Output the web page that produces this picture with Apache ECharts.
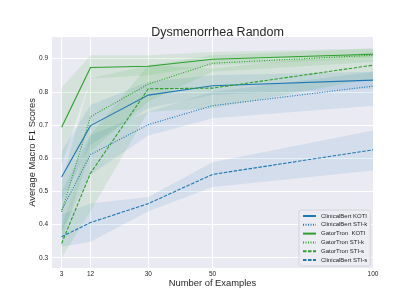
<!DOCTYPE html>
<html><head><meta charset="utf-8">
<script src="https://cdn.jsdelivr.net/npm/echarts@6/dist/echarts.min.js"></script>
<style>html,body{margin:0;padding:0;background:#fff}#c{width:415px;height:302px}</style>
</head><body><div id="c"></div>
<script>
const examples = [3, 12, 30, 50, 100];
const xTicks = [3, 12, 30, 50, 100];
const yTicks = [0.3, 0.4, 0.5, 0.6, 0.7, 0.8, 0.9];

const seriesNames = ['ClinicalBert KOTI', 'ClinicalBert STI-k', 'GatorTron  KOTI', 'GatorTron STI-k', 'GatorTron STI-s', 'ClinicalBert STI-s'];

const cbKoti     = [0.543, 0.698, 0.790, 0.818, 0.835];
const cbKotiLo   = [0.470, 0.640, 0.750, 0.790, 0.810];
const cbKotiHi   = [0.620, 0.760, 0.830, 0.850, 0.860];

const cbStik     = [0.443, 0.611, 0.701, 0.758, 0.817];
const cbStikLo   = [0.380, 0.550, 0.668, 0.720, 0.758];
const cbStikHi   = [0.500, 0.670, 0.740, 0.800, 0.860];

const gtKoti     = [0.693, 0.873, 0.877, 0.898, 0.913];
const gtKotiLo   = [0.580, 0.840, 0.850, 0.880, 0.900];
const gtKotiHi   = [0.813, 0.910, 0.910, 0.920, 0.930];

const gtStik     = [0.438, 0.725, 0.823, 0.886, 0.910];
const gtStikLo   = [0.350, 0.620, 0.770, 0.860, 0.890];
const gtStikHi   = [0.530, 0.840, 0.880, 0.910, 0.930];

const gtStis     = [0.343, 0.555, 0.809, 0.811, 0.880];
const gtStisLo   = [0.300, 0.440, 0.740, 0.750, 0.840];
const gtStisHi   = [0.390, 0.670, 0.880, 0.870, 0.920];

const cbStis     = [0.363, 0.406, 0.463, 0.551, 0.625];
const cbStisLo   = [0.333, 0.348, 0.440, 0.513, 0.563];
const cbStisHi   = [0.430, 0.463, 0.483, 0.588, 0.683];

const BLUE = '#1f77b4', GREEN = '#2ca02c';
const lines = [
  {name: seriesNames[0], v: cbKoti, lo: cbKotiLo, hi: cbKotiHi, color: BLUE, type: 'solid'},
  {name: seriesNames[1], v: cbStik, lo: cbStikLo, hi: cbStikHi, color: BLUE, type: [1, 1.5]},
  {name: seriesNames[2], v: gtKoti, lo: gtKotiLo, hi: gtKotiHi, color: GREEN, type: 'solid'},
  {name: seriesNames[3], v: gtStik, lo: gtStikLo, hi: gtStikHi, color: GREEN, type: [1, 1.5]},
  {name: seriesNames[4], v: gtStis, lo: gtStisLo, hi: gtStisHi, color: GREEN, type: [3.5, 1.5]},
  {name: seriesNames[5], v: cbStis, lo: cbStisLo, hi: cbStisHi, color: BLUE, type: [3.5, 1.5]}
];

function hexA(hex, a) {
  const r = parseInt(hex.slice(1,3),16), g = parseInt(hex.slice(3,5),16), b = parseInt(hex.slice(5,7),16);
  return `rgba(${r},${g},${b},${a})`;
}

const series = [];
lines.forEach(l => {
  series.push({
    type: 'custom',
    silent: true,
    z: 1,
    data: examples.map((x, i) => [x, l.lo[i], l.hi[i]]),
    encode: {x: 0, y: [1, 2]},
    renderItem: function (params, api) {
      if (params.dataIndexInside !== 0) return null;
      const n = params.dataInsideLength;
      const up = [], dn = [];
      for (let i = 0; i < n; i++) {
        up.push(api.coord([api.value(0, i), api.value(2, i)]));
        dn.push(api.coord([api.value(0, i), api.value(1, i)]));
      }
      const pts = up.concat(dn.reverse());
      return {type: 'polygon', shape: {points: pts}, style: {fill: hexA(l.color, 0.11)}};
    }
  });
});
lines.forEach(l => {
  series.push({
    type: 'line',
    name: l.name,
    z: 3,
    symbol: 'none',
    data: examples.map((x, i) => [x, l.v[i]]),
    lineStyle: {color: l.color, width: 1.1, type: l.type},
    itemStyle: {color: l.color}
  });
});

const chart = echarts.init(document.getElementById('c'), null, {renderer: 'canvas'});
chart.setOption({
  animation: false,
  backgroundColor: '#ffffff',
  textStyle: {fontFamily: 'Liberation Sans'},
  title: {
    text: 'Dysmenorrhea Random',
    left: 212.5, textAlign: 'center', top: 21,
    textStyle: {fontSize: 12.5, fontWeight: 'normal', color: '#262626', fontFamily: 'Liberation Sans'}
  },
  grid: {left: 52, right: 42, top: 37, bottom: 34, show: true, backgroundColor: '#eaeaf2', borderWidth: 0},
  legend: {
    data: seriesNames,
    orient: 'vertical',
    left: 299, top: 210,
    itemWidth: 13, itemHeight: 6, itemGap: 2.8,
    padding: [3, 3, 3, 3],
    backgroundColor: 'rgba(236,236,243,0.9)',
    borderColor: '#cfcfd6', borderWidth: 0.8, borderRadius: 2,
    itemStyle: {opacity: 0},
    textStyle: {fontSize: 6, color: '#262626'}
  },
  xAxis: {
    type: 'value', min: 0, max: 100,
    name: 'Number of Examples', nameLocation: 'middle', nameGap: 11, nameMoveOverlap: false,
    nameTextStyle: {fontSize: 9.4, color: '#262626'},
    axisLine: {show: false}, axisTick: {show: false, customValues: xTicks},
    axisLabel: {customValues: xTicks, fontSize: 6.5, color: '#262626', margin: 3},
    splitLine: {show: true, lineStyle: {color: '#ffffff', width: 1}}
  },
  yAxis: {
    type: 'value', min: 0.269, max: 0.965,
    name: 'Average Macro F1 Scores', nameLocation: 'middle', nameGap: 15, nameMoveOverlap: false,
    nameTextStyle: {fontSize: 9.4, color: '#262626'},
    axisLine: {show: false}, axisTick: {show: false, customValues: yTicks},
    axisLabel: {customValues: yTicks, fontSize: 6.5, color: '#262626', margin: 4,
      formatter: v => v.toFixed(1)},
    splitLine: {show: true, lineStyle: {color: '#ffffff', width: 1}}
  },
  series: series
});
</script>
</body></html>
